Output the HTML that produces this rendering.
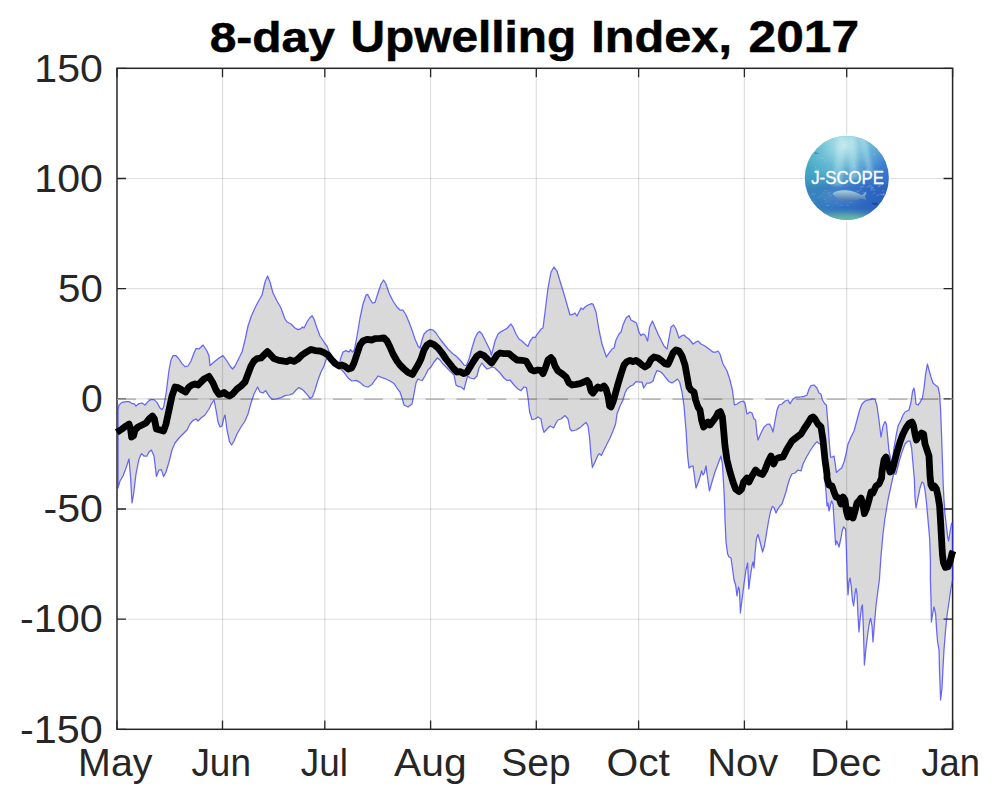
<!DOCTYPE html>
<html lang="en">
<head>
<meta charset="utf-8">
<title>8-day Upwelling Index, 2017</title>
<style>
html,body{margin:0;padding:0;background:#fff;}
body{width:1000px;height:806px;position:relative;overflow:hidden;font-family:"Liberation Sans",sans-serif;}
svg text{font-family:"Liberation Sans",sans-serif;}
</style>
</head>
<body>
<svg width="1000" height="806" viewBox="0 0 1000 806" style="position:absolute;left:0;top:0">
<rect x="0" y="0" width="1000" height="806" fill="#fff"/>
<path d="M222.53 68.35 V729.40 M324.85 68.35 V729.40 M430.58 68.35 V729.40 M536.31 68.35 V729.40 M638.62 68.35 V729.40 M744.35 68.35 V729.40 M846.67 68.35 V729.40" stroke="#262626" stroke-opacity="0.15" stroke-width="1.2" fill="none"/>
<path d="M117.05 178.52 H952.65 M117.05 288.70 H952.65 M117.05 398.88 H952.65 M117.05 509.05 H952.65 M117.05 619.23 H952.65" stroke="#262626" stroke-opacity="0.15" stroke-width="1.2" fill="none"/>
<path d="M117.0 729.4 v-9.0 M117.0 68.3 v9.0 M222.5 729.4 v-9.0 M222.5 68.3 v9.0 M324.8 729.4 v-9.0 M324.8 68.3 v9.0 M430.6 729.4 v-9.0 M430.6 68.3 v9.0 M536.3 729.4 v-9.0 M536.3 68.3 v9.0 M638.6 729.4 v-9.0 M638.6 68.3 v9.0 M744.4 729.4 v-9.0 M744.4 68.3 v9.0 M846.7 729.4 v-9.0 M846.7 68.3 v9.0 M952.6 729.4 v-9.0 M952.6 68.3 v9.0 M117.0 68.3 h9.0 M952.6 68.3 h-9.0 M117.0 178.5 h9.0 M952.6 178.5 h-9.0 M117.0 288.7 h9.0 M952.6 288.7 h-9.0 M117.0 398.9 h9.0 M952.6 398.9 h-9.0 M117.0 509.0 h9.0 M952.6 509.0 h-9.0 M117.0 619.2 h9.0 M952.6 619.2 h-9.0 M117.0 729.4 h9.0 M952.6 729.4 h-9.0" stroke="#262626" stroke-width="1.3" fill="none"/>
<rect x="117.0" y="68.3" width="835.6" height="661.0" fill="none" stroke="#262626" stroke-width="1.5"/>
<path d="M117.0 399.1 H952.6" stroke="#a6a6a6" stroke-width="1.3" stroke-dasharray="19 11.86" fill="none"/>
<path d="M118.0 410.0 L119.0 405.0 L122.0 402.4 L126.0 401.6 L129.0 401.6 L132.0 403.6 L134.0 403.6 L136.0 406.0 L139.0 403.6 L142.0 403.0 L145.0 405.0 L148.0 401.6 L151.0 399.6 L154.0 399.6 L157.0 402.4 L160.0 408.0 L162.0 409.6 L163.6 407.0 L166.0 394.0 L169.0 370.0 L171.0 360.0 L173.0 355.6 L176.0 355.6 L179.0 359.0 L182.0 363.6 L185.0 366.6 L188.0 366.0 L191.0 361.0 L194.0 353.0 L196.0 348.4 L199.0 349.0 L201.0 347.0 L203.0 345.0 L205.0 348.0 L207.0 351.0 L209.0 356.0 L210.0 365.6 L214.0 362.0 L219.0 358.0 L223.0 355.6 L227.0 361.0 L230.0 366.0 L232.6 369.0 L235.0 366.0 L239.0 358.0 L242.0 352.0 L245.0 340.0 L248.0 326.0 L251.0 317.0 L254.0 310.0 L258.0 302.0 L262.0 295.0 L265.0 282.0 L267.6 276.0 L270.0 282.0 L273.0 293.0 L277.0 301.0 L281.0 308.0 L285.0 319.0 L287.0 322.0 L291.0 324.0 L295.0 328.0 L298.0 329.6 L301.0 328.6 L302.4 327.0 L304.0 328.0 L307.0 322.0 L309.6 318.0 L312.0 315.6 L314.0 319.0 L317.0 328.0 L320.0 336.0 L324.0 342.0 L327.0 346.0 L330.0 354.0 L333.0 359.0 L336.0 364.0 L339.0 367.0 L340.4 359.0 L343.0 352.0 L346.0 350.6 L349.0 352.0 L350.6 349.6 L352.4 352.0 L354.4 350.0 L357.0 336.0 L360.0 318.0 L363.0 304.0 L366.0 295.0 L367.6 294.4 L370.0 299.0 L372.4 303.0 L375.0 302.4 L378.0 293.0 L381.0 284.0 L383.6 280.0 L386.0 284.0 L389.0 293.0 L393.0 301.0 L397.0 307.0 L400.0 310.0 L403.0 310.0 L406.0 315.0 L409.0 322.0 L412.0 330.0 L415.0 339.0 L418.0 346.0 L420.0 348.0 L422.0 340.0 L424.0 334.0 L427.0 331.0 L430.0 329.4 L433.0 330.0 L436.0 333.0 L440.0 339.0 L444.0 344.0 L448.0 349.0 L452.0 353.0 L456.0 356.0 L460.0 360.0 L464.0 365.0 L466.4 365.6 L469.0 359.0 L472.0 348.0 L475.0 338.0 L477.6 333.0 L479.6 331.4 L482.0 334.0 L485.0 340.0 L488.0 346.0 L490.0 350.0 L491.4 355.0 L493.0 349.0 L495.0 341.0 L498.0 334.0 L501.0 331.6 L504.0 330.0 L507.0 328.4 L509.0 326.0 L511.0 324.0 L513.0 327.0 L516.0 334.0 L519.0 339.0 L522.0 341.0 L525.0 344.0 L528.0 346.4 L530.0 341.0 L533.0 337.0 L535.0 337.6 L538.0 333.0 L541.0 329.0 L543.0 328.0 L545.0 312.0 L548.0 288.0 L551.0 272.0 L554.0 267.0 L557.0 271.0 L560.0 281.0 L564.0 294.0 L568.0 308.0 L570.0 315.0 L573.0 314.4 L575.0 313.0 L577.0 316.0 L579.0 312.0 L581.0 308.0 L583.0 309.4 L585.0 307.0 L588.0 305.0 L591.6 303.6 L593.0 304.0 L596.0 312.0 L599.0 330.0 L602.0 344.0 L605.0 353.0 L606.4 357.0 L609.0 353.0 L612.0 349.0 L614.0 348.0 L616.0 340.0 L619.0 334.0 L621.0 332.0 L623.0 325.0 L626.0 318.0 L629.0 315.6 L631.0 320.0 L634.0 321.6 L636.4 323.0 L639.0 332.0 L641.0 335.6 L643.0 334.0 L645.0 335.0 L647.6 341.0 L649.6 327.0 L652.4 321.0 L655.0 327.0 L658.0 334.0 L661.0 340.0 L664.0 346.0 L667.0 349.0 L669.0 338.0 L671.0 327.0 L673.6 325.0 L676.0 329.0 L679.0 338.0 L682.0 335.6 L684.0 335.0 L686.0 337.0 L689.0 339.0 L693.0 344.0 L696.0 342.0 L698.0 341.0 L701.0 344.0 L705.0 346.0 L709.0 349.0 L713.0 352.0 L716.0 352.0 L718.0 351.0 L720.0 354.0 L723.0 364.0 L727.0 371.0 L730.0 380.0 L732.4 390.0 L734.4 405.0 L737.0 404.0 L740.0 402.0 L743.0 401.0 L745.0 403.0 L747.0 414.0 L750.0 412.0 L752.0 413.0 L754.0 419.0 L755.6 420.0 L757.0 434.0 L758.0 440.0 L761.0 433.0 L764.0 427.0 L767.0 424.4 L769.6 424.0 L771.6 428.0 L773.0 432.0 L775.0 421.0 L777.0 410.0 L779.0 405.0 L782.0 404.0 L785.0 401.0 L788.0 400.0 L790.0 403.6 L793.0 399.0 L796.0 397.0 L800.0 397.0 L804.0 396.4 L807.0 395.0 L809.0 389.0 L811.0 385.6 L814.0 385.0 L817.0 388.0 L819.0 393.0 L821.0 394.0 L822.4 400.0 L825.0 404.0 L826.4 405.0 L828.0 424.0 L829.4 444.0 L830.6 457.0 L832.4 457.0 L834.0 456.0 L835.0 462.0 L836.4 472.4 L839.0 470.0 L841.6 468.0 L844.0 462.0 L846.0 454.0 L848.0 444.0 L851.0 437.0 L854.0 431.0 L857.0 420.0 L859.6 410.0 L862.0 404.0 L865.0 401.0 L868.0 400.0 L870.0 399.6 L872.0 398.6 L875.0 399.0 L877.0 406.0 L879.0 420.0 L881.0 437.0 L883.0 426.0 L885.0 421.6 L886.4 424.0 L887.6 436.0 L889.0 451.0 L890.4 457.0 L892.0 462.0 L894.0 448.0 L896.0 436.0 L898.0 426.0 L901.0 420.0 L903.0 415.0 L905.0 412.0 L909.0 410.0 L911.0 402.0 L912.6 391.0 L914.0 388.0 L915.0 394.0 L916.0 404.0 L918.0 405.0 L920.0 402.4 L922.4 398.0 L924.0 388.0 L925.6 374.0 L927.4 364.0 L929.0 370.0 L931.0 377.0 L933.0 383.0 L936.0 385.6 L938.0 387.0 L939.6 394.0 L940.6 410.0 L941.6 436.0 L942.4 460.0 L943.2 484.0 L944.0 500.0 L945.0 514.0 L946.4 526.0 L947.6 536.0 L948.6 541.0 L950.0 532.0 L951.4 524.0 L952.6 522.0 L952.6 580.0 L951.0 588.0 L949.0 602.0 L947.0 616.0 L945.6 630.0 L944.0 650.0 L943.0 668.0 L942.0 688.0 L940.6 700.0 L939.6 674.0 L939.0 650.0 L937.6 642.0 L936.6 630.0 L935.6 614.0 L934.0 607.0 L932.6 614.0 L931.4 622.0 L931.0 600.0 L930.4 580.0 L930.4 560.0 L929.6 538.0 L928.0 520.0 L926.4 502.0 L925.0 490.0 L923.6 483.0 L922.0 482.0 L920.0 488.0 L918.0 498.0 L916.0 508.0 L915.0 498.0 L914.4 480.0 L913.0 464.0 L911.6 448.0 L910.0 441.0 L908.0 441.0 L905.0 444.0 L902.0 452.0 L899.0 462.0 L896.0 474.0 L893.6 474.0 L891.0 486.0 L888.0 500.0 L885.0 518.0 L883.0 534.0 L881.0 556.0 L879.4 580.0 L878.0 590.0 L876.0 606.0 L874.4 624.0 L873.0 642.0 L872.0 626.0 L870.6 618.4 L869.6 622.0 L868.0 632.0 L866.0 648.0 L864.4 665.0 L863.4 630.0 L862.4 605.0 L861.4 608.0 L860.0 620.0 L859.0 632.0 L858.0 616.0 L857.0 594.0 L856.0 588.4 L855.0 594.0 L853.6 606.0 L852.4 600.0 L851.2 586.0 L850.0 578.0 L849.0 582.0 L848.0 595.0 L847.2 578.0 L846.4 550.0 L845.6 529.0 L843.6 527.0 L842.4 530.0 L841.0 538.0 L839.0 547.0 L838.0 544.0 L836.6 541.0 L835.6 545.0 L834.4 526.0 L833.0 504.0 L831.6 501.0 L830.4 505.0 L829.0 511.0 L828.0 503.0 L827.0 506.0 L826.0 492.0 L824.4 474.0 L823.0 458.0 L821.0 444.0 L819.0 443.6 L817.0 441.6 L814.0 445.0 L810.0 451.0 L806.0 458.0 L803.0 464.0 L801.0 471.0 L798.0 470.0 L795.0 473.0 L792.0 474.0 L790.0 478.0 L788.0 484.0 L786.0 492.0 L784.0 498.0 L782.0 504.0 L780.0 506.0 L778.0 509.0 L776.0 513.0 L774.0 507.6 L772.4 506.4 L770.4 512.0 L768.4 522.0 L766.4 534.0 L764.4 546.0 L762.6 552.0 L761.0 546.0 L759.6 540.0 L758.0 534.4 L756.4 539.0 L755.0 554.0 L754.0 568.0 L753.0 562.0 L752.0 566.0 L750.4 576.0 L748.8 589.0 L747.6 563.0 L746.0 570.0 L744.0 584.0 L742.0 600.0 L740.4 613.0 L739.4 590.0 L738.4 587.0 L737.0 596.0 L735.6 585.0 L734.0 580.0 L732.4 568.0 L731.0 558.0 L729.0 557.0 L727.6 554.0 L726.0 542.0 L725.0 520.0 L724.4 500.0 L723.6 484.0 L722.4 464.0 L721.0 456.0 L718.0 464.0 L715.0 472.0 L712.0 482.0 L709.4 491.0 L707.6 478.0 L706.0 466.0 L704.4 473.0 L703.0 475.0 L701.6 471.0 L700.0 477.0 L698.0 483.0 L696.0 488.0 L694.4 476.0 L693.0 466.0 L691.0 466.4 L689.0 468.0 L687.6 456.0 L686.0 430.0 L684.0 406.0 L682.0 392.0 L679.6 382.0 L677.4 379.0 L675.0 381.0 L672.0 383.0 L669.0 381.6 L666.0 378.0 L663.0 374.0 L660.0 371.6 L657.0 370.6 L655.0 375.0 L653.0 381.0 L650.0 383.0 L647.0 383.0 L645.0 386.0 L643.6 388.0 L642.0 382.0 L639.0 382.0 L636.0 381.6 L633.0 385.0 L630.0 386.4 L627.0 389.0 L625.0 393.0 L623.0 400.0 L620.0 406.0 L617.0 414.0 L615.6 424.0 L613.0 431.0 L610.0 438.0 L607.0 444.0 L604.0 450.0 L601.4 455.6 L599.4 453.6 L598.0 455.0 L595.0 462.0 L592.4 467.6 L591.0 456.0 L589.6 438.0 L588.0 426.0 L586.0 422.4 L583.0 425.0 L580.0 427.6 L576.0 430.0 L572.0 431.0 L570.0 429.0 L568.0 419.0 L565.0 415.6 L561.0 419.0 L558.0 420.0 L556.0 423.0 L553.6 428.0 L552.0 427.0 L550.0 426.0 L547.0 429.0 L544.0 432.4 L542.4 427.0 L541.0 419.0 L538.0 417.0 L535.0 419.0 L532.0 419.6 L529.6 412.0 L528.0 398.0 L526.4 387.6 L524.0 387.0 L521.0 390.6 L518.0 389.0 L514.0 385.0 L510.0 380.0 L507.0 380.4 L504.0 378.0 L500.0 373.0 L498.0 371.0 L495.0 368.0 L492.4 367.0 L490.0 368.0 L487.0 369.0 L484.0 366.0 L482.0 363.0 L479.0 368.0 L477.0 376.0 L474.0 379.0 L470.0 378.0 L467.6 376.0 L466.0 382.0 L464.0 389.6 L461.0 387.0 L458.0 386.4 L456.0 385.0 L454.0 375.0 L451.0 372.0 L447.0 368.0 L443.0 364.0 L440.0 360.0 L437.4 358.0 L434.0 362.0 L431.0 367.0 L428.0 370.0 L425.0 376.0 L422.4 380.4 L420.0 380.0 L418.0 379.0 L416.0 383.0 L414.0 394.0 L412.0 404.0 L408.0 407.0 L404.0 405.0 L402.0 398.0 L400.0 392.0 L397.0 388.0 L394.0 383.6 L390.0 381.0 L386.0 379.0 L382.0 377.6 L378.0 376.0 L375.0 380.0 L372.0 384.4 L368.0 387.0 L364.0 386.0 L360.0 382.4 L356.0 380.4 L352.0 381.0 L348.0 378.0 L344.0 372.4 L340.0 368.0 L336.0 365.0 L332.0 359.6 L328.4 355.6 L326.4 359.0 L324.0 366.0 L321.0 372.0 L318.0 380.0 L315.0 390.0 L312.4 397.0 L310.0 398.4 L307.0 394.4 L303.0 390.0 L299.0 387.6 L296.0 390.0 L293.0 393.6 L289.0 395.0 L285.0 395.6 L281.0 397.6 L276.0 399.0 L272.0 399.4 L269.0 396.0 L265.6 390.6 L263.0 393.0 L260.0 392.0 L257.6 387.0 L254.0 394.0 L251.0 403.0 L248.0 414.0 L245.0 421.0 L241.0 427.0 L237.0 434.0 L234.0 441.0 L231.6 445.0 L229.6 442.0 L227.0 430.0 L225.0 415.0 L223.6 419.0 L222.0 426.0 L220.0 427.0 L218.0 422.0 L216.0 410.0 L214.0 400.0 L212.0 403.0 L209.0 409.0 L205.0 415.0 L201.0 418.0 L198.0 421.0 L196.0 419.0 L193.0 420.4 L190.0 424.0 L187.0 430.0 L183.0 434.0 L179.0 438.0 L175.0 443.0 L172.0 450.0 L169.0 462.0 L166.0 472.0 L163.6 476.6 L161.4 469.6 L159.0 470.0 L156.4 476.4 L154.0 456.0 L151.4 450.0 L149.0 452.0 L147.0 456.0 L144.0 456.0 L141.6 453.6 L139.0 459.0 L136.0 474.0 L133.6 494.0 L132.0 503.0 L130.6 478.0 L129.0 459.0 L126.0 468.0 L123.0 476.0 L120.0 481.0 L118.0 488.0 Z" fill="#000" fill-opacity="0.15" stroke="#3030ff" stroke-opacity="0.72" stroke-width="1.25" stroke-linejoin="round"/>
<path d="M116.8 432.4 L122.0 429.0 L126.0 426.0 L129.0 424.0 L130.6 429.0 L131.6 437.0 L133.6 435.6 L135.0 430.0 L138.0 427.0 L142.0 425.0 L146.0 423.0 L149.0 419.0 L152.4 416.0 L154.4 419.0 L156.4 429.0 L160.0 430.0 L163.6 431.0 L166.0 424.0 L169.0 410.0 L172.0 396.0 L175.0 387.0 L178.0 387.6 L182.0 390.0 L185.6 392.0 L189.0 387.0 L192.0 385.0 L195.0 384.0 L198.0 385.0 L201.0 382.0 L204.0 379.0 L209.0 376.4 L213.0 383.0 L216.0 390.0 L219.0 394.4 L222.0 393.6 L224.0 392.4 L226.4 394.4 L229.6 396.0 L233.0 393.6 L237.0 389.0 L241.0 386.0 L245.0 382.0 L248.0 374.0 L251.0 366.0 L254.0 361.0 L257.0 358.6 L261.0 358.0 L264.0 355.0 L267.4 351.6 L270.0 354.4 L274.0 358.6 L279.0 360.4 L284.0 361.2 L287.0 361.6 L290.0 360.0 L294.0 361.4 L298.0 359.0 L302.0 355.0 L306.0 352.4 L311.0 349.4 L315.0 350.6 L320.0 351.0 L324.0 352.6 L328.0 355.0 L331.0 359.0 L335.0 363.4 L339.0 366.0 L342.0 365.0 L345.0 366.4 L348.4 369.0 L351.6 368.0 L354.0 363.0 L357.0 354.0 L360.0 345.0 L363.0 341.0 L367.0 339.4 L372.0 340.0 L375.0 338.6 L380.0 338.4 L384.0 338.0 L387.0 341.0 L390.0 347.0 L393.0 354.0 L397.0 361.0 L400.0 365.0 L404.0 369.0 L408.0 372.4 L412.4 374.4 L415.0 370.0 L418.0 365.0 L421.0 359.0 L424.0 350.0 L427.0 345.0 L430.0 343.0 L434.0 344.6 L438.0 348.0 L442.0 353.0 L446.0 359.0 L450.0 364.0 L454.0 369.0 L457.0 372.0 L460.0 371.6 L464.0 373.6 L467.0 372.0 L470.0 367.0 L473.0 362.0 L477.0 356.0 L480.0 354.0 L484.0 355.6 L488.0 359.6 L491.6 363.0 L494.0 359.6 L497.0 355.0 L500.0 353.0 L504.0 353.6 L509.0 353.6 L513.0 357.0 L517.0 360.0 L522.0 360.4 L526.0 361.0 L529.0 366.0 L531.0 369.6 L534.0 371.0 L538.0 370.0 L541.0 370.4 L543.0 373.6 L545.0 369.0 L548.0 360.0 L551.0 357.6 L553.0 360.0 L555.0 366.0 L558.0 371.0 L562.0 373.6 L566.0 377.0 L569.0 383.0 L572.0 385.0 L576.0 384.4 L580.0 383.6 L584.0 382.0 L587.0 380.4 L589.0 383.0 L591.0 391.0 L593.0 393.0 L596.0 389.0 L598.0 387.0 L601.0 388.4 L604.0 386.0 L606.0 389.0 L608.0 396.0 L609.6 406.0 L611.0 407.0 L613.0 402.0 L615.0 395.0 L618.0 384.0 L621.0 374.0 L624.0 365.0 L627.0 361.6 L630.0 360.4 L633.0 361.6 L636.0 360.4 L639.0 362.4 L642.0 365.0 L645.0 367.0 L648.0 365.0 L651.0 359.6 L654.0 357.0 L658.0 358.0 L662.0 361.0 L665.0 363.6 L668.0 364.4 L670.0 360.0 L673.0 353.0 L676.0 350.0 L679.0 351.0 L682.0 356.0 L685.0 365.0 L687.0 376.0 L689.0 387.0 L691.0 390.0 L694.0 392.0 L695.6 400.0 L698.0 407.0 L700.0 410.0 L701.6 420.0 L703.6 427.0 L706.0 425.0 L708.0 422.0 L710.0 425.0 L713.0 421.0 L716.0 417.0 L718.0 413.0 L720.4 411.6 L722.4 417.0 L723.6 430.0 L725.0 446.0 L727.0 460.0 L730.0 472.0 L733.0 482.0 L735.6 489.0 L739.0 491.6 L741.6 489.0 L743.6 482.0 L747.0 478.0 L749.0 482.0 L752.0 476.0 L755.6 470.0 L759.0 473.0 L762.4 474.4 L765.0 470.0 L768.0 462.0 L771.0 456.0 L773.6 464.0 L776.0 459.0 L779.0 457.6 L783.0 457.0 L787.0 449.0 L792.0 441.0 L797.0 437.0 L801.0 434.0 L804.0 429.0 L808.0 423.0 L811.0 418.0 L813.0 417.0 L815.0 419.0 L818.0 424.0 L821.0 427.0 L823.0 440.0 L825.0 460.0 L827.0 474.0 L827.0 478.0 L829.0 485.0 L832.0 486.0 L834.0 492.0 L836.0 497.0 L839.0 498.0 L841.0 504.0 L843.0 497.0 L845.0 500.0 L846.4 511.0 L848.0 517.0 L850.0 510.0 L851.6 513.0 L853.0 518.0 L855.0 511.0 L857.0 503.0 L859.0 501.0 L861.0 498.0 L863.0 505.0 L864.4 513.6 L866.4 509.0 L869.0 500.0 L871.0 492.0 L873.0 493.0 L876.0 486.0 L879.0 484.0 L881.6 478.0 L882.0 472.0 L884.0 460.0 L886.0 457.0 L888.0 464.0 L890.0 472.0 L892.0 471.0 L894.0 464.0 L897.0 452.0 L900.0 442.0 L903.0 434.0 L906.0 428.0 L909.0 423.6 L912.0 422.0 L913.6 426.0 L915.0 434.0 L916.4 440.0 L919.0 436.0 L921.6 433.0 L923.6 434.0 L925.0 444.0 L927.0 450.0 L929.0 456.0 L930.0 476.0 L931.0 485.0 L932.4 487.6 L934.4 486.0 L936.4 489.0 L938.0 496.0 L939.6 506.0 L940.6 522.0 L941.6 540.0 L942.4 554.0 L943.4 562.4 L945.4 567.4 L948.0 566.8 L950.2 561.0 L952.0 553.6 L953.1 551.0" fill="none" stroke="#000" stroke-width="6.8" stroke-linejoin="round" stroke-linecap="butt"/>
<defs>
<clipPath id="lc"><circle cx="846.8" cy="177.9" r="42"/></clipPath>
<linearGradient id="lg1" x1="0.05" y1="0.1" x2="0.95" y2="0.75"><stop offset="0" stop-color="#38aabc"/><stop offset="0.35" stop-color="#43a2c6"/><stop offset="0.7" stop-color="#3578cf"/><stop offset="1" stop-color="#2a5cc6"/></linearGradient>
<linearGradient id="lg2" x1="0" y1="0" x2="0" y2="1"><stop offset="0" stop-color="#7fd0dc" stop-opacity="0.55"/><stop offset="0.4" stop-color="#5ab0d8" stop-opacity="0.15"/><stop offset="0.62" stop-color="#2a60b4" stop-opacity="0.45"/><stop offset="0.85" stop-color="#2c64b4" stop-opacity="0.45"/><stop offset="1" stop-color="#6cc0a0" stop-opacity="0.9"/></linearGradient>
<radialGradient id="lg3" cx="0.47" cy="0.12" r="0.5"><stop offset="0" stop-color="#d8f4f4" stop-opacity="0.85"/><stop offset="0.6" stop-color="#a8e0e8" stop-opacity="0.3"/><stop offset="1" stop-color="#a8e0e8" stop-opacity="0"/></radialGradient>
<linearGradient id="lgf" x1="0" y1="0" x2="0" y2="1"><stop offset="0" stop-color="#a9cfe2"/><stop offset="1" stop-color="#4673a6"/></linearGradient>
<filter id="bl" x="-20%" y="-20%" width="140%" height="140%"><feGaussianBlur stdDeviation="1.6"/></filter><filter id="bl2" x="-30%" y="-60%" width="160%" height="220%"><feGaussianBlur stdDeviation="3"/></filter>
</defs>
<rect x="803.5" y="134.3" width="86.5" height="87.5" fill="#fff"/>
<g clip-path="url(#lc)">
<rect x="804" y="135" width="86" height="86" fill="url(#lg1)"/>
<rect x="804" y="135" width="86" height="86" fill="url(#lg2)"/>
<rect x="804" y="135" width="86" height="86" fill="url(#lg3)"/>
<path filter="url(#bl)" d="M838 136 L833 186 L842 186 L845 136 Z M849 136 L850 180 L858 178 L855 136 Z M860 137 L868 176 L873 172 L866 138 Z" fill="#c8eef0" fill-opacity="0.32"/>
<g><ellipse cx="863.1" cy="186.6" rx="1.5" ry="0.6" transform="rotate(-20 863.1 186.6)" fill="#9cc4ee" fill-opacity="0.35"/><ellipse cx="867.9" cy="186.7" rx="1.5" ry="0.6" transform="rotate(-20 867.9 186.7)" fill="#9cc4ee" fill-opacity="0.35"/><ellipse cx="858.0" cy="191.4" rx="1.5" ry="0.6" transform="rotate(-20 858.0 191.4)" fill="#9cc4ee" fill-opacity="0.35"/><ellipse cx="883.5" cy="193.9" rx="1.5" ry="0.6" transform="rotate(-20 883.5 193.9)" fill="#9cc4ee" fill-opacity="0.35"/><ellipse cx="879.0" cy="186.4" rx="1.5" ry="0.6" transform="rotate(-20 879.0 186.4)" fill="#9cc4ee" fill-opacity="0.35"/><ellipse cx="872.1" cy="187.9" rx="1.5" ry="0.6" transform="rotate(-20 872.1 187.9)" fill="#9cc4ee" fill-opacity="0.35"/><ellipse cx="861.2" cy="186.9" rx="1.5" ry="0.6" transform="rotate(-20 861.2 186.9)" fill="#9cc4ee" fill-opacity="0.35"/><ellipse cx="862.4" cy="198.2" rx="1.5" ry="0.6" transform="rotate(-20 862.4 198.2)" fill="#9cc4ee" fill-opacity="0.35"/><ellipse cx="880.9" cy="194.3" rx="1.5" ry="0.6" transform="rotate(-20 880.9 194.3)" fill="#9cc4ee" fill-opacity="0.35"/><ellipse cx="880.0" cy="185.8" rx="1.5" ry="0.6" transform="rotate(-20 880.0 185.8)" fill="#9cc4ee" fill-opacity="0.35"/><ellipse cx="865.3" cy="193.7" rx="1.5" ry="0.6" transform="rotate(-20 865.3 193.7)" fill="#9cc4ee" fill-opacity="0.35"/><ellipse cx="878.0" cy="195.3" rx="1.5" ry="0.6" transform="rotate(-20 878.0 195.3)" fill="#9cc4ee" fill-opacity="0.35"/><ellipse cx="882.4" cy="184.0" rx="1.5" ry="0.6" transform="rotate(-20 882.4 184.0)" fill="#9cc4ee" fill-opacity="0.35"/><ellipse cx="874.2" cy="193.2" rx="1.5" ry="0.6" transform="rotate(-20 874.2 193.2)" fill="#9cc4ee" fill-opacity="0.35"/><ellipse cx="871.2" cy="186.7" rx="1.5" ry="0.6" transform="rotate(-20 871.2 186.7)" fill="#9cc4ee" fill-opacity="0.35"/><ellipse cx="870.2" cy="185.5" rx="1.5" ry="0.6" transform="rotate(-20 870.2 185.5)" fill="#9cc4ee" fill-opacity="0.35"/><ellipse cx="884.0" cy="194.8" rx="1.5" ry="0.6" transform="rotate(-20 884.0 194.8)" fill="#9cc4ee" fill-opacity="0.35"/><ellipse cx="872.4" cy="188.2" rx="1.5" ry="0.6" transform="rotate(-20 872.4 188.2)" fill="#9cc4ee" fill-opacity="0.35"/><ellipse cx="883.3" cy="190.7" rx="1.5" ry="0.6" transform="rotate(-20 883.3 190.7)" fill="#9cc4ee" fill-opacity="0.35"/><ellipse cx="882.5" cy="194.7" rx="1.5" ry="0.6" transform="rotate(-20 882.5 194.7)" fill="#9cc4ee" fill-opacity="0.35"/><ellipse cx="871.3" cy="190.0" rx="1.5" ry="0.6" transform="rotate(-20 871.3 190.0)" fill="#9cc4ee" fill-opacity="0.35"/><ellipse cx="874.0" cy="189.9" rx="1.5" ry="0.6" transform="rotate(-20 874.0 189.9)" fill="#9cc4ee" fill-opacity="0.35"/><ellipse cx="860.8" cy="189.7" rx="1.5" ry="0.6" transform="rotate(-20 860.8 189.7)" fill="#9cc4ee" fill-opacity="0.35"/><ellipse cx="880.4" cy="183.7" rx="1.5" ry="0.6" transform="rotate(-20 880.4 183.7)" fill="#9cc4ee" fill-opacity="0.35"/><ellipse cx="857.4" cy="194.6" rx="1.5" ry="0.6" transform="rotate(-20 857.4 194.6)" fill="#9cc4ee" fill-opacity="0.35"/><ellipse cx="864.4" cy="192.5" rx="1.5" ry="0.6" transform="rotate(-20 864.4 192.5)" fill="#9cc4ee" fill-opacity="0.35"/><ellipse cx="830.8" cy="195.5" rx="1.3" ry="0.5" fill="#a8cce8" fill-opacity="0.28"/><ellipse cx="851.9" cy="193.1" rx="1.3" ry="0.5" fill="#a8cce8" fill-opacity="0.28"/><ellipse cx="828.5" cy="193.2" rx="1.3" ry="0.5" fill="#a8cce8" fill-opacity="0.28"/><ellipse cx="837.3" cy="194.4" rx="1.3" ry="0.5" fill="#a8cce8" fill-opacity="0.28"/><ellipse cx="826.2" cy="202.0" rx="1.3" ry="0.5" fill="#a8cce8" fill-opacity="0.28"/><ellipse cx="824.8" cy="198.9" rx="1.3" ry="0.5" fill="#a8cce8" fill-opacity="0.28"/><ellipse cx="848.2" cy="191.6" rx="1.3" ry="0.5" fill="#a8cce8" fill-opacity="0.28"/><ellipse cx="814.5" cy="193.7" rx="1.3" ry="0.5" fill="#a8cce8" fill-opacity="0.28"/><ellipse cx="842.6" cy="199.8" rx="1.3" ry="0.5" fill="#a8cce8" fill-opacity="0.28"/><ellipse cx="821.5" cy="195.3" rx="1.3" ry="0.5" fill="#a8cce8" fill-opacity="0.28"/><ellipse cx="819.1" cy="197.3" rx="1.3" ry="0.5" fill="#a8cce8" fill-opacity="0.28"/><ellipse cx="813.7" cy="201.2" rx="1.3" ry="0.5" fill="#a8cce8" fill-opacity="0.28"/><ellipse cx="847.8" cy="205.3" rx="1.3" ry="0.5" fill="#a8cce8" fill-opacity="0.28"/><ellipse cx="841.4" cy="205.4" rx="1.3" ry="0.5" fill="#a8cce8" fill-opacity="0.28"/><ellipse cx="812.7" cy="194.6" rx="1.3" ry="0.5" fill="#a8cce8" fill-opacity="0.28"/><ellipse cx="850.6" cy="202.4" rx="1.3" ry="0.5" fill="#a8cce8" fill-opacity="0.28"/><ellipse cx="828.4" cy="205.1" rx="1.3" ry="0.5" fill="#a8cce8" fill-opacity="0.28"/><ellipse cx="836.8" cy="203.1" rx="1.3" ry="0.5" fill="#a8cce8" fill-opacity="0.28"/><ellipse cx="823.7" cy="193.1" rx="1.3" ry="0.5" fill="#a8cce8" fill-opacity="0.28"/><ellipse cx="829.8" cy="192.2" rx="1.3" ry="0.5" fill="#a8cce8" fill-opacity="0.28"/><ellipse cx="827.3" cy="205.4" rx="1.3" ry="0.5" fill="#a8cce8" fill-opacity="0.28"/><ellipse cx="825.3" cy="190.2" rx="1.3" ry="0.5" fill="#a8cce8" fill-opacity="0.28"/><circle cx="817.7" cy="147.1" r="0.8" fill="#d8f4f8" fill-opacity="0.22"/><circle cx="836.8" cy="150.7" r="0.4" fill="#d8f4f8" fill-opacity="0.22"/><circle cx="873.9" cy="154.7" r="0.5" fill="#d8f4f8" fill-opacity="0.22"/><circle cx="818.6" cy="143.7" r="0.5" fill="#d8f4f8" fill-opacity="0.22"/><circle cx="855.6" cy="146.5" r="0.4" fill="#d8f4f8" fill-opacity="0.22"/><circle cx="844.4" cy="149.5" r="0.9" fill="#d8f4f8" fill-opacity="0.22"/><circle cx="822.3" cy="157.9" r="0.8" fill="#d8f4f8" fill-opacity="0.22"/><circle cx="839.6" cy="171.6" r="0.6" fill="#d8f4f8" fill-opacity="0.22"/><circle cx="829.5" cy="154.3" r="0.4" fill="#d8f4f8" fill-opacity="0.22"/><circle cx="840.3" cy="149.5" r="0.8" fill="#d8f4f8" fill-opacity="0.22"/><circle cx="864.9" cy="157.0" r="0.4" fill="#d8f4f8" fill-opacity="0.22"/><circle cx="830.3" cy="149.3" r="0.5" fill="#d8f4f8" fill-opacity="0.22"/><circle cx="828.9" cy="168.1" r="0.5" fill="#d8f4f8" fill-opacity="0.22"/><circle cx="818.1" cy="169.8" r="0.7" fill="#d8f4f8" fill-opacity="0.22"/><circle cx="874.4" cy="154.1" r="0.9" fill="#d8f4f8" fill-opacity="0.22"/><circle cx="854.2" cy="165.7" r="0.8" fill="#d8f4f8" fill-opacity="0.22"/><circle cx="844.7" cy="144.8" r="0.5" fill="#d8f4f8" fill-opacity="0.22"/><circle cx="867.4" cy="169.0" r="0.9" fill="#d8f4f8" fill-opacity="0.22"/><circle cx="835.2" cy="161.7" r="0.8" fill="#d8f4f8" fill-opacity="0.22"/><circle cx="853.5" cy="166.4" r="0.7" fill="#d8f4f8" fill-opacity="0.22"/><circle cx="854.3" cy="162.6" r="0.5" fill="#d8f4f8" fill-opacity="0.22"/><circle cx="870.4" cy="170.7" r="0.4" fill="#d8f4f8" fill-opacity="0.22"/><circle cx="873.3" cy="170.9" r="0.7" fill="#d8f4f8" fill-opacity="0.22"/><circle cx="817.7" cy="169.0" r="0.5" fill="#d8f4f8" fill-opacity="0.22"/><circle cx="873.1" cy="162.0" r="0.4" fill="#d8f4f8" fill-opacity="0.22"/><circle cx="825.0" cy="161.1" r="0.7" fill="#d8f4f8" fill-opacity="0.22"/><circle cx="859.8" cy="169.8" r="0.5" fill="#d8f4f8" fill-opacity="0.22"/><circle cx="815.2" cy="169.7" r="0.4" fill="#d8f4f8" fill-opacity="0.22"/><circle cx="867.6" cy="145.5" r="0.8" fill="#d8f4f8" fill-opacity="0.22"/><circle cx="862.0" cy="168.3" r="0.7" fill="#d8f4f8" fill-opacity="0.22"/><circle cx="867.7" cy="148.1" r="0.7" fill="#d8f4f8" fill-opacity="0.22"/><circle cx="834.8" cy="168.8" r="0.8" fill="#d8f4f8" fill-opacity="0.22"/><circle cx="843.3" cy="157.8" r="0.4" fill="#d8f4f8" fill-opacity="0.22"/><circle cx="817.1" cy="159.8" r="0.6" fill="#d8f4f8" fill-opacity="0.22"/><circle cx="866.9" cy="160.2" r="0.5" fill="#d8f4f8" fill-opacity="0.22"/><circle cx="836.8" cy="165.0" r="0.7" fill="#d8f4f8" fill-opacity="0.22"/><circle cx="815.6" cy="167.1" r="0.8" fill="#d8f4f8" fill-opacity="0.22"/><circle cx="820.1" cy="158.3" r="0.6" fill="#d8f4f8" fill-opacity="0.22"/><circle cx="862.2" cy="151.3" r="0.5" fill="#d8f4f8" fill-opacity="0.22"/><circle cx="844.2" cy="171.0" r="0.4" fill="#d8f4f8" fill-opacity="0.22"/></g>
<ellipse filter="url(#bl2)" cx="846" cy="219" rx="22" ry="4.5" fill="#6cc0a0" fill-opacity="0.8"/>
<ellipse filter="url(#bl2)" cx="842" cy="196" rx="20" ry="7" fill="#8cb8e0" fill-opacity="0.22"/>
<path d="M832.6 193.5 C837 189.5 846 190 852 191.2 C857 192.3 860 194.5 862 195.2 L866.5 191.5 L865 196.5 L867 201 L861.5 198 C857 200.5 848 201.3 842 200 C837.5 199 834.5 196.5 832.6 193.5 Z" fill="url(#lgf)"/>
<path d="M871.5 203 C874 201.8 877 202.8 879 204.5 C876.5 205.8 873.5 205.3 871.5 203 Z" fill="#1f3f78" fill-opacity="0.75"/>
<path d="M815 152 l4 1.5 l-4.5 0.5 Z" fill="#2a7a90" fill-opacity="0.7"/>
</g>
<text transform="translate(811.2 183.9) scale(1.0 1)" font-size="18.6" fill="#fff" stroke="#fff" stroke-width="0.35" font-family="Liberation Sans, sans-serif" textLength="72.8" lengthAdjust="spacingAndGlyphs">J-SCOPE</text>

<text transform="translate(209.68 51.50) scale(1.1043 1)" font-size="43.44" font-weight="bold" fill="#000" stroke="#000" stroke-width="0.5" font-family="Liberation Sans, sans-serif">8-day</text>
<text transform="translate(350.52 51.50) scale(1.1006 1)" font-size="43.44" font-weight="bold" fill="#000" stroke="#000" stroke-width="0.5" font-family="Liberation Sans, sans-serif">Upwelling</text>
<text transform="translate(591.19 51.50) scale(1.1215 1)" font-size="43.44" font-weight="bold" fill="#000" stroke="#000" stroke-width="0.5" font-family="Liberation Sans, sans-serif">Index,</text>
<text transform="translate(748.61 51.50) scale(1.1425 1)" font-size="43.44" font-weight="bold" fill="#000" stroke="#000" stroke-width="0.5" font-family="Liberation Sans, sans-serif">2017</text>
<text transform="translate(34.29 81.50) scale(1.0537 1)" font-size="39.00" fill="#262626" font-family="Liberation Sans, sans-serif">150</text>
<text transform="translate(34.29 191.67) scale(1.0537 1)" font-size="39.00" fill="#262626" font-family="Liberation Sans, sans-serif">100</text>
<text transform="translate(58.02 301.85) scale(1.0311 1)" font-size="39.00" fill="#262626" font-family="Liberation Sans, sans-serif">50</text>
<text transform="translate(81.08 412.02) scale(1.0000 1)" font-size="39.00" fill="#262626" font-family="Liberation Sans, sans-serif">0</text>
<text transform="translate(43.48 522.20) scale(1.0542 1)" font-size="39.00" fill="#262626" font-family="Liberation Sans, sans-serif">-50</text>
<text transform="translate(20.09 632.38) scale(1.0602 1)" font-size="39.00" fill="#262626" font-family="Liberation Sans, sans-serif">-100</text>
<text transform="translate(20.09 742.55) scale(1.0602 1)" font-size="39.00" fill="#262626" font-family="Liberation Sans, sans-serif">-150</text>
<text transform="translate(78.11 776.00) scale(1.0125 1)" font-size="38.91" fill="#262626" font-family="Liberation Sans, sans-serif">May</text>
<text transform="translate(191.41 776.00) scale(0.9493 1)" font-size="38.91" fill="#262626" font-family="Liberation Sans, sans-serif">Jun</text>
<text transform="translate(300.80 776.00) scale(0.9587 1)" font-size="38.45" fill="#262626" font-family="Liberation Sans, sans-serif">Jul</text>
<text transform="translate(393.97 776.00) scale(1.0492 1)" font-size="38.91" fill="#262626" font-family="Liberation Sans, sans-serif">Aug</text>
<text transform="translate(501.25 776.00) scale(1.0000 1)" font-size="39.00" fill="#262626" font-family="Liberation Sans, sans-serif">Sep</text>
<text transform="translate(606.44 776.00) scale(1.0462 1)" font-size="39.00" fill="#262626" font-family="Liberation Sans, sans-serif">Oct</text>
<text transform="translate(707.27 776.00) scale(1.0251 1)" font-size="38.91" fill="#262626" font-family="Liberation Sans, sans-serif">Nov</text>
<text transform="translate(810.27 776.00) scale(1.0235 1)" font-size="38.91" fill="#262626" font-family="Liberation Sans, sans-serif">Dec</text>
<text transform="translate(921.42 776.00) scale(0.9325 1)" font-size="38.91" fill="#262626" font-family="Liberation Sans, sans-serif">Jan</text>
</svg>
</body>
</html>
